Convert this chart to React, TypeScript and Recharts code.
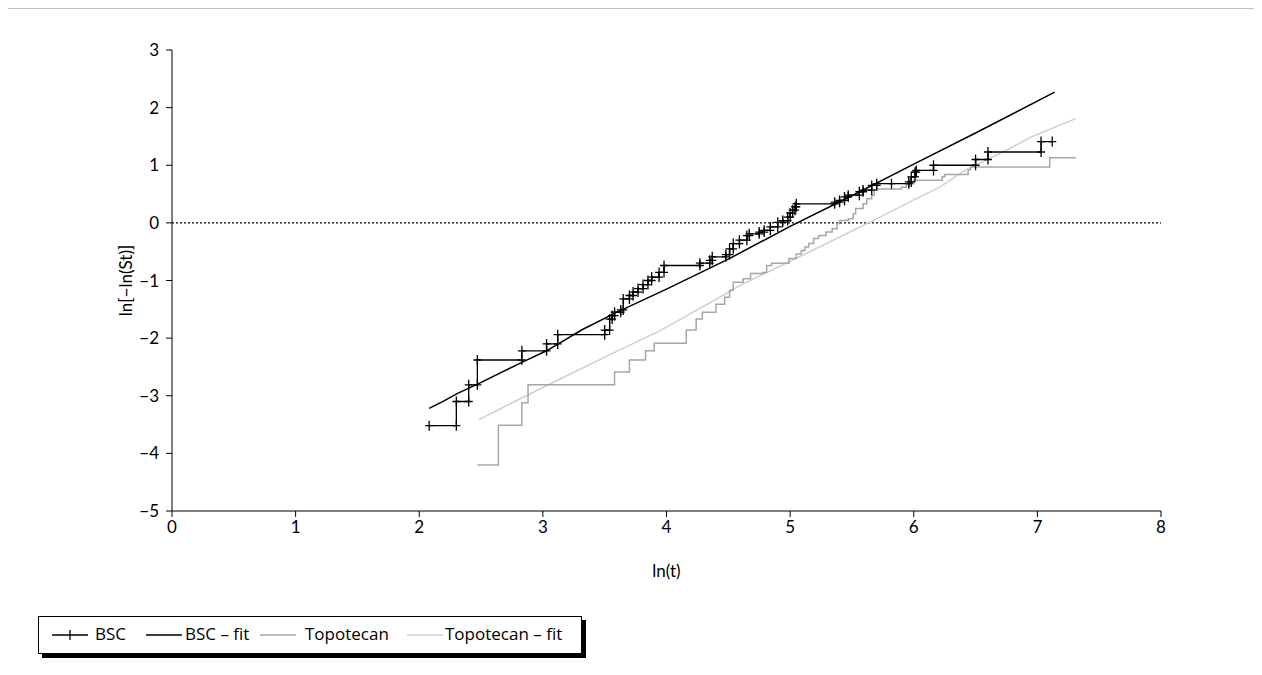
import { LineChart, Line, XAxis, YAxis, ReferenceLine } from 'recharts'

const xTicks = [0, 1, 2, 3, 4, 5, 6, 7, 8]
const yTicks = [-5, -4, -3, -2, -1, 0, 1, 2, 3]

// BSC Kaplan-Meier steps: event time and level after it
const bscTimes = [
  2.08, 2.3, 2.4, 2.47, 2.83, 3.03, 3.12, 3.5, 3.54, 3.56, 3.58, 3.63, 3.65, 3.7, 3.73, 3.77,
  3.81, 3.85, 3.88, 3.94, 3.98, 4.27, 4.35, 4.37, 4.48, 4.51, 4.54, 4.59, 4.65, 4.67, 4.75,
  4.79, 4.84, 4.9, 4.94, 4.98, 5.0, 5.02, 5.04, 5.05, 5.36, 5.4, 5.44, 5.47, 5.56, 5.59, 5.66,
  5.7, 5.82, 5.96, 5.98, 6.01, 6.02, 6.16, 6.5, 6.6, 7.03, 7.12,
]
const bscLevels = [
  -3.52, -3.1, -2.81, -2.38, -2.22, -2.1, -1.94, -1.86, -1.67, -1.61, -1.55, -1.51, -1.32, -1.26,
  -1.2, -1.14, -1.07, -1.0, -0.94, -0.86, -0.74, -0.7, -0.65, -0.59, -0.55, -0.45, -0.36, -0.3,
  -0.22, -0.19, -0.16, -0.13, -0.07, 0.01, 0.04, 0.1, 0.17, 0.22, 0.28, 0.33, 0.36, 0.39, 0.45,
  0.48, 0.54, 0.57, 0.65, 0.68, 0.68, 0.71, 0.8, 0.88, 0.91, 1.0, 1.1, 1.23, 1.41, 1.41,
]

const topoTimes = [
  2.47, 2.64, 2.83, 2.88, 3.58, 3.7, 3.83, 3.9, 4.16, 4.24, 4.29, 4.4, 4.47, 4.51, 4.54, 4.62,
  4.68, 4.78, 4.81, 4.85, 4.99, 5.05, 5.09, 5.12, 5.15, 5.19, 5.23, 5.29, 5.34, 5.38, 5.4, 5.47,
  5.51, 5.53, 5.59, 5.62, 5.66, 5.68, 5.71, 5.9, 5.94, 6.0, 6.23, 6.25, 6.44, 6.46, 7.1, 7.31,
]
const topoLevels = [
  -4.2, -3.51, -3.12, -2.81, -2.59, -2.38, -2.22, -2.09, -1.86, -1.67, -1.55, -1.41, -1.29, -1.17,
  -1.03, -0.97, -0.88, -0.86, -0.74, -0.7, -0.62, -0.54, -0.48, -0.42, -0.36, -0.27, -0.22, -0.16,
  -0.1, -0.01, 0.04, 0.07, 0.16, 0.25, 0.33, 0.42, 0.48, 0.57, 0.59, 0.62, 0.68, 0.74, 0.8, 0.84,
  0.92, 0.97, 1.13, 1.13,
]

const bscFitX = [2.08, 2.2, 2.31, 2.48, 2.83, 3.03, 3.32, 3.6, 4.0, 4.5, 5.0, 5.5, 6.0, 6.5, 7.14]
const bscFitY = [-3.22, -3.09, -2.96, -2.79, -2.42, -2.22, -1.85, -1.55, -1.15, -0.63, -0.06, 0.47, 1.02, 1.56, 2.27]

const topoFitX = [2.48, 2.8, 3.14, 3.5, 3.95, 4.48, 4.59, 5.18, 5.67, 6.02, 6.21, 6.42, 6.75, 6.96, 7.31]
const topoFitY = [-3.42, -3.07, -2.71, -2.33, -1.87, -1.23, -1.09, -0.48, 0.04, 0.42, 0.62, 0.92, 1.26, 1.5, 1.81]

const toSteps = (xs: number[], ys: number[]) => {
  const pts = [{ x: xs[0], y: ys[0] }]
  for (let i = 1; i < xs.length; i++) {
    pts.push({ x: xs[i], y: ys[i - 1] })
    if (ys[i] !== ys[i - 1]) pts.push({ x: xs[i], y: ys[i] })
  }
  return pts
}

const toLine = (xs: number[], ys: number[]) => xs.map((x, i) => ({ x, y: ys[i] }))

const bscData = toSteps(bscTimes, bscLevels)
const topoData = toSteps(topoTimes, topoLevels)
const bscFitData = toLine(bscFitX, bscFitY)
const topoFitData = toLine(topoFitX, topoFitY)

const FONT = 'Lato, "Open Sans", sans-serif'
const LEGEND_FONT = '"Open Sans", Lato, sans-serif'

const PlusDot = (props: any) => {
  const { cx, cy, index } = props
  if (cx == null || cy == null) return null
  return (
    <path
      key={`p-${index}`}
      d={`M${cx - 4},${cy}H${cx + 4}M${cx},${cy - 5}V${cy + 5}`}
      stroke="#000"
      strokeWidth={1.3}
      fill="none"
    />
  )
}

const legendItems = [
  { name: 'BSC', color: '#000', marker: true, left: 13, textLeft: 56 },
  { name: 'BSC – fit', color: '#000', marker: false, left: 107, textLeft: 146 },
  { name: 'Topotecan', color: '#a6a6a6', marker: false, left: 221, textLeft: 266 },
  { name: 'Topotecan – fit', color: '#d0d0d0', marker: false, left: 368, textLeft: 406 },
]

const App = () => {
  return (
    <div
      style={{
        position: 'relative',
        width: 1262,
        height: 675,
        margin: -8,
        overflow: 'hidden',
        background: '#fff',
        fontFamily: FONT,
      }}
    >
      <div style={{ position: 'absolute', left: 0, top: 0 }}>
        <LineChart width={1262} height={675} margin={{ top: 50, right: 101, bottom: 98, left: 112 }}>
          <XAxis
            type="number"
            dataKey="x"
            domain={[0, 8]}
            ticks={xTicks}
            height={66}
            tickSize={6}
            tickMargin={4}
            stroke="#000"
            tick={{ fill: '#000', fontSize: 17, fontFamily: FONT }}
            allowDataOverflow
            label={{ value: 'ln(t)', position: 'insideBottom', offset: 0, fill: '#000', fontSize: 17, fontFamily: FONT }}
          />
          <YAxis
            type="number"
            domain={[-5, 3]}
            ticks={yTicks}
            width={60}
            tickSize={6}
            tickMargin={7}
            stroke="#000"
            tick={{ fill: '#000', fontSize: 17, fontFamily: FONT }}
            tickFormatter={(v: number) => (v < 0 ? `−${Math.abs(v)}` : `${v}`)}
            allowDataOverflow
            label={{
              value: 'ln[−ln(St)]',
              angle: -90,
              position: 'insideLeft',
              offset: 14,
              fill: '#000',
              fontSize: 17,
              fontFamily: FONT,
              style: { textAnchor: 'middle' },
            }}
          />
          <ReferenceLine y={0} stroke="#000" strokeDasharray="2 2" strokeWidth={1.2} />
          <Line
            data={topoFitData}
            dataKey="y"
            type="linear"
            stroke="#d0d0d0"
            strokeWidth={1.5}
            dot={false}
            isAnimationActive={false}
          />
          <Line
            data={topoData}
            dataKey="y"
            type="linear"
            stroke="#a6a6a6"
            strokeWidth={1.5}
            dot={false}
            isAnimationActive={false}
          />
          <Line
            data={bscFitData}
            dataKey="y"
            type="linear"
            stroke="#000"
            strokeWidth={1.5}
            dot={false}
            isAnimationActive={false}
          />
          <Line
            data={bscData}
            dataKey="y"
            type="linear"
            stroke="#000"
            strokeWidth={1.3}
            dot={PlusDot}
            activeDot={false}
            isAnimationActive={false}
          />
        </LineChart>
      </div>
      <svg
        width={1262}
        height={675}
        style={{ position: 'absolute', left: 0, top: 0, pointerEvents: 'none', zIndex: 5 }}
      >
        <line x1={3.5} y1={7} x2={3.5} y2={675} stroke="#000" strokeWidth={1.5} />
        <line x1={3} y1={7.5} x2={1260} y2={7.5} stroke="#000" strokeWidth={1.5} />
        <line x1={1259.5} y1={7} x2={1259.5} y2={675} stroke="#000" strokeWidth={1.5} />
      </svg>
      <div
        style={{
          position: 'absolute',
          left: 38,
          top: 616,
          width: 542,
          height: 36,
          border: '1px solid #000',
          boxShadow: '4px 4px 0 #000',
          background: '#fff',
          fontFamily: LEGEND_FONT,
          zIndex: 6,
        }}
      >
        {legendItems.map((it) => (
          <div key={it.name}>
            <svg
              width={36}
              height={12}
              style={{ position: 'absolute', left: it.left, top: 12 }}
            >
              <line x1={0} y1={6} x2={36} y2={6} stroke={it.color} strokeWidth={1.5} />
              {it.marker && <line x1={18} y1={1} x2={18} y2={11} stroke="#000" strokeWidth={1.3} />}
            </svg>
            <span
              style={{
                position: 'absolute',
                left: it.textLeft,
                top: 6,
                fontSize: 17,
                lineHeight: '22px',
                color: '#000',
                whiteSpace: 'nowrap',
              }}
            >
              {it.name}
            </span>
          </div>
        ))}
      </div>
    </div>
  )
}

export default App
